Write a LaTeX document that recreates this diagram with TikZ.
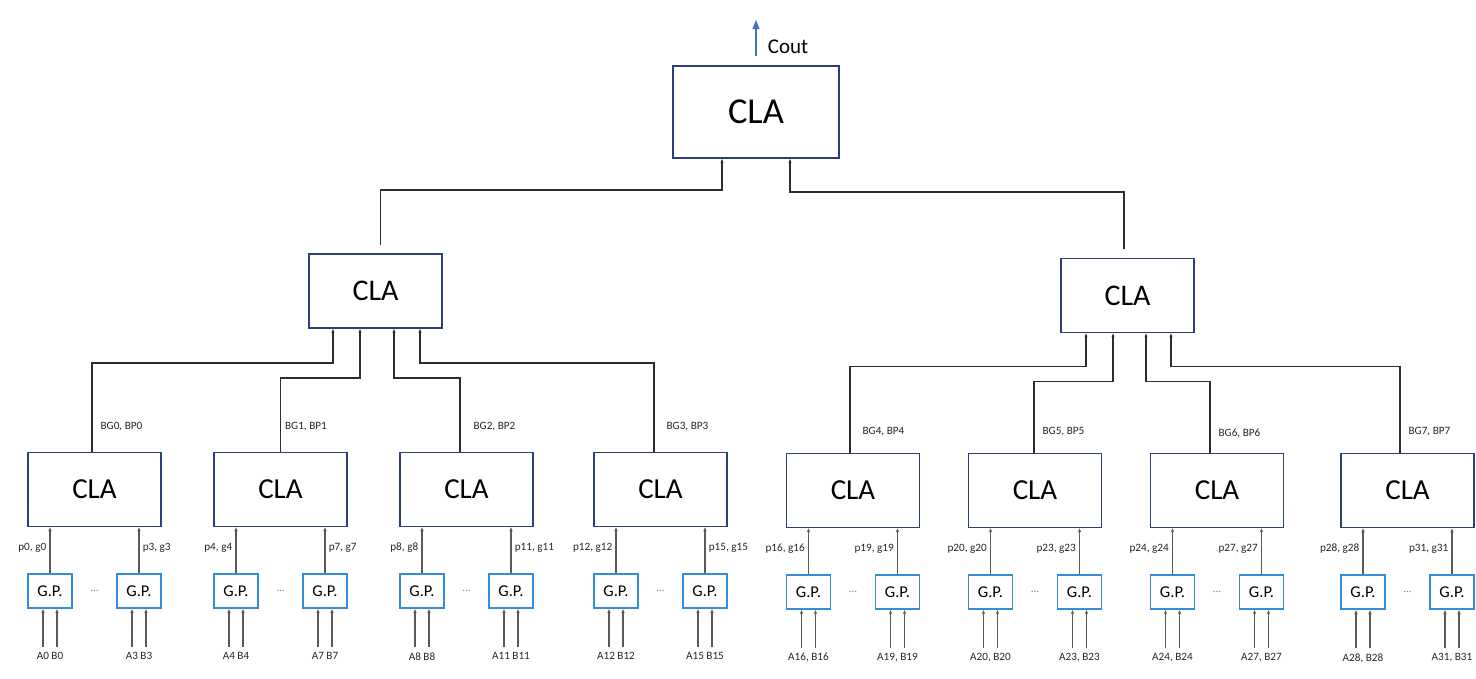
\documentclass[tikz,border=0pt]{standalone}
\usepackage{fontspec}
\setmainfont{Carlito}
\usepackage{tikz}
\usetikzlibrary{arrows,arrows.meta,shapes,positioning,calc}
\usepackage{xcolor}
\definecolor{claborder}{RGB}{44,62,124}
\definecolor{gpborder}{RGB}{52,140,218}
\definecolor{coutblue}{RGB}{68,114,196}
\definecolor{wiregray}{RGB}{90,90,90}
\definecolor{treegray}{RGB}{45,45,45}
\tikzstyle{cla} = [rectangle, minimum width=133pt, minimum height=74pt, text centered, draw=claborder, line width=1.8pt, font=\fontsize{29}{29}\selectfont]
\tikzstyle{gp} = [rectangle, minimum width=44pt, minimum height=34pt, text centered, draw=gpborder, line width=1.8pt, font=\fontsize{16.5}{16.5}\selectfont]
\tikzstyle{lab} = [font=\fontsize{11.2}{12}\selectfont, text=black!85, inner sep=2pt]
\tikzstyle{tree} = [line width=1.2pt, draw=treegray, -{Stealth[length=4pt,width=3pt]}]
\tikzstyle{wire} = [line width=1.6pt, draw=wiregray, -{Stealth[length=4pt,width=3.5pt]}]
\tikzstyle{outarrow} = [line width=1.2pt, draw=coutblue, -{Triangle[length=9pt,width=7pt]}]

\begin{document}
\begin{tikzpicture}[x=1pt, y=-1pt]
\useasboundingbox (0,0) rectangle (1476,678);

% first level: one CLA per 4 bits
\foreach \i/\x/\y/\an/\xs in {0/94.5/489.5/west/1pt, 1/280.5/489.5/west/1pt, 2/466.5/489.5/west/1pt, 3/660.5/489.5/west/1pt, 4/853/490.5/east/-1pt, 5/1035/490.5/east/-1pt, 6/1217/490.5/east/-1pt, 7/1407.5/490.5/east/-1pt}{
  \pgfmathtruncatemacro\a{4*\i}
  \pgfmathtruncatemacro\b{4*\i+3}
  \node (cla\i) [cla] at (\x,\y) {CLA};
  \node (gpl\i) [gp, below=46pt of cla\i.south west, anchor=north west] {G.P.};
  \node (gpr\i) [gp, below=46pt of cla\i.south east, anchor=north east] {G.P.};
  \node (dots\i) [lab, text=gray] at (cla\i.south |- gpl\i.center) {...};
  \node (abl\i) [lab, below=41pt of gpl\i.south] {A\a\ifnum\i<4\ \else,\ \fi B\a};
  \node (abr\i) [lab, below=41pt of gpr\i.south] {A\b\ifnum\i<4\ \else,\ \fi B\b};
  \draw[wire] (gpl\i.north) -- node[lab, pos=0.55, anchor=east, xshift=-1pt] (pgl\i) {p\a, g\a} (gpl\i.north |- cla\i.south);
  \draw[wire] (gpr\i.north) -- node[lab, pos=0.55, anchor=\an, xshift=\xs] (pgr\i) {p\b, g\b} (gpr\i.north |- cla\i.south);
  \foreach \s in {-7,7}{
    \draw[wire] ([xshift=\s pt, yshift=3pt]abl\i.north) -- ([xshift=\s pt]gpl\i.south);
    \draw[wire] ([xshift=\s pt, yshift=3pt]abr\i.north) -- ([xshift=\s pt]gpr\i.south);
  }
}

% second level
\node (lcla) [cla, font=\fontsize{30}{30}\selectfont] at (375.5,291) {CLA};
\node (rcla) [cla, font=\fontsize{30}{30}\selectfont] at (1127.5,295.5) {CLA};

% top level
\node (top) [cla, minimum width=166pt, minimum height=92pt, font=\fontsize{36.5}{36.5}\selectfont] at (756,112) {CLA};
\coordinate (coutend) at (756,20);
\draw[outarrow] ([yshift=9pt]top.north) -- node[pos=0.26, anchor=west, xshift=8pt, font=\fontsize{21}{21}\selectfont] (cout) {Cout} (coutend);

% block signals into the second level
\draw[tree] ([xshift=-2.5pt]cla0.north) -- ++(0,-25) node[lab, anchor=west, xshift=6pt] (bg0) {BG0, BP0} |- ([xshift=-42.5pt,yshift=-34pt]lcla.south) -- ([xshift=-42.5pt]lcla.south);
\draw[tree] (cla1.north) -- ++(0,-25) node[lab, anchor=west, xshift=2pt] (bg1) {BG1, BP1} |- ([xshift=-15.5pt,yshift=-49pt]lcla.south) -- ([xshift=-15.5pt]lcla.south);
\draw[tree] ([xshift=-6.5pt]cla2.north) -- ++(0,-25) node[lab, anchor=west, xshift=11pt] (bg2) {BG2, BP2} |- ([xshift=18.5pt,yshift=-49pt]lcla.south) -- ([xshift=18.5pt]lcla.south);
\draw[tree] ([xshift=-6.5pt]cla3.north) -- ++(0,-25) node[lab, anchor=west, xshift=10pt] (bg3) {BG3, BP3} |- ([xshift=44.5pt,yshift=-34pt]lcla.south) -- ([xshift=44.5pt]lcla.south);
\draw[tree] ([xshift=-3pt]cla4.north) -- ++(0,-21) node[lab, anchor=west, xshift=10pt] (bg4) {BG4, BP4} |- ([xshift=-41.5pt,yshift=-33pt]rcla.south) -- ([xshift=-41.5pt]rcla.south);
\draw[tree] ([xshift=-1pt]cla5.north) -- ++(0,-21) node[lab, anchor=west, xshift=6pt] (bg5) {BG5, BP5} |- ([xshift=-14.5pt,yshift=-48pt]rcla.south) -- ([xshift=-14.5pt]rcla.south);
\draw[tree] ([xshift=-7pt]cla6.north) -- ++(0,-19) node[lab, anchor=west, xshift=6pt] (bg6) {BG6, BP6} |- ([xshift=18.5pt,yshift=-48pt]rcla.south) -- ([xshift=18.5pt]rcla.south);
\draw[tree] ([xshift=-7.5pt]cla7.north) -- ++(0,-21) node[lab, anchor=west, xshift=6pt] (bg7) {BG7, BP7} |- ([xshift=43.5pt,yshift=-33pt]rcla.south) -- ([xshift=43.5pt]rcla.south);

% second level into the top CLA
\draw[tree] ([xshift=5pt,yshift=8pt]lcla.north) |- ([xshift=-34pt,yshift=-31pt]top.south) -- ([xshift=-34pt]top.south);
\draw[tree] ([xshift=-3.5pt,yshift=9pt]rcla.north) |- ([xshift=34pt,yshift=-33pt]top.south) -- ([xshift=34pt]top.south);
\end{tikzpicture}
\end{document}
